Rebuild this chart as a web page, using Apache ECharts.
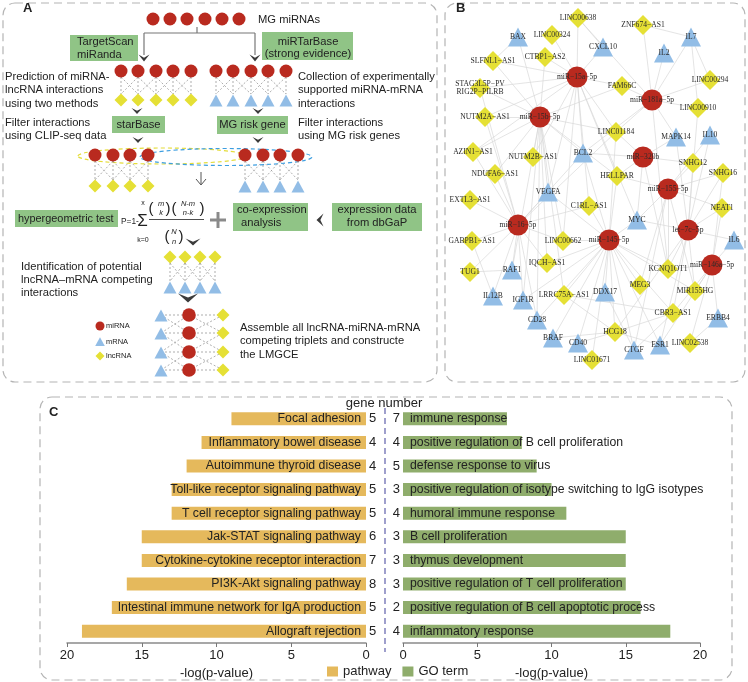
<!DOCTYPE html>
<html><head><meta charset="utf-8">
<script src="https://cdn.jsdelivr.net/npm/echarts@6/dist/echarts.min.js"></script>
<style>html,body{margin:0;padding:0;background:#fff}#c{width:748px;height:682px}</style>
</head><body><div id="c"></div>
<script>
// ---------- Panel C data ----------
const pathways = ['Focal adhesion','Inflammatory bowel disease','Autoimmune thyroid disease','Toll-like receptor signaling pathway','T cell receptor signaling pathway','Jak-STAT signaling pathway','Cytokine-cytokine receptor interaction','PI3K-Akt signaling pathway','Intestinal immune network for IgA production','Allograft rejection'];
const pathwayLogP = [9,11,12,13,13,15,15,16,17,19];
const pathwayGenes = [5,4,4,5,5,6,7,8,5,5];
const goTerms = ['immune response','positive regulation of B cell proliferation','defense response to virus','positive regulation of isotype switching to IgG isotypes','humoral immune response','B cell proliferation','thymus development','positive regulation of T cell proliferation','positive regulation of B cell apoptotic process','inflammatory response'];
const goLogP = [7,8,9,10,11,15,15,15,16,18];
const goGenes = [7,4,5,3,4,3,3,3,2,4];

// ---------- Panel B network data ----------
const miRNAs = ['miR-15a-5p','miR-181a-5p','miR-15b-5p','miR-320b','miR-155-5p','miR-16-5p','let-7c-5p','miR-145-5p','miR-146a-5p'];
const mRNAs = ['BAX','CXCL10','IL7','IL2','MAPK14','IL10','BCL2','VEGFA','MYC','IL6','RAF1','IL12B','IGF1R','DDX17','ERBB4','CD28','BRAF','CD40','CTGF','ESR1'];
const lncRNAs = ['LINC00638','ZNF674-AS1','LINC00324','SLFNL1-AS1','CTBP1-AS2','LINC00294','STAG3L5P-PVRIG2P-PILRB','FAM66C','LINC00910','NUTM2A-AS1','LINC01184','AZIN1-AS1','NUTM2B-AS1','SNHG12','SNHG16','NDUFA6-AS1','HELLPAR','EXTL3-AS1','C1RL-AS1','NEAT1','GABPB1-AS1','LINC00662','IQCH-AS1','TUG1','KCNQ1OT1','MIR155HG','LRRC75A-AS1','MEG3','CBR3-AS1','HCG18','LINC02538','LINC01671'];
const miRNATargets = {
 'miR-15a-5p':['LINC00638','LINC00324','CTBP1-AS2','CXCL10','FAM66C','BCL2','LINC01184','HELLPAR','NUTM2B-AS1','VEGFA','STAG3L5P-PVRIG2P-PILRB','NUTM2A-AS1','AZIN1-AS1','SLFNL1-AS1','LINC00662','MYC','C1RL-AS1'],
 'miR-15b-5p':['BAX','SLFNL1-AS1','STAG3L5P-PVRIG2P-PILRB','NUTM2A-AS1','AZIN1-AS1','NUTM2B-AS1','NDUFA6-AS1','BCL2','VEGFA','LINC01184','FAM66C','CTBP1-AS2','IQCH-AS1','LINC00662','IGF1R','RAF1','CD28','LRRC75A-AS1','HELLPAR'],
 'miR-181a-5p':['ZNF674-AS1','IL7','IL2','LINC00294','LINC00910','FAM66C','LINC00638','BCL2','MAPK14','LINC01184','KCNQ1OT1'],
 'miR-320b':['LINC01184','HELLPAR','MAPK14','SNHG12','BCL2','MYC','KCNQ1OT1'],
 'miR-155-5p':['HELLPAR','SNHG12','SNHG16','NEAT1','MYC','KCNQ1OT1','MIR155HG','IL10','MEG3','CTGF'],
 'let-7c-5p':['IL6','NEAT1','SNHG16','SNHG12','IL10','MYC','KCNQ1OT1','MIR155HG','HCG18','CBR3-AS1','ESR1','LINC00910','MAPK14'],
 'miR-16-5p':['EXTL3-AS1','GABPB1-AS1','TUG1','RAF1','IL12B','IGF1R','NDUFA6-AS1','AZIN1-AS1','VEGFA','BCL2','C1RL-AS1','LINC00662','NUTM2A-AS1','IQCH-AS1','STAG3L5P-PVRIG2P-PILRB','CD28','LINC01184'],
 'miR-145-5p':['C1RL-AS1','LINC00662','IQCH-AS1','LRRC75A-AS1','DDX17','MEG3','HCG18','CBR3-AS1','CD28','BRAF','CD40','CTGF','ESR1','LINC01671','KCNQ1OT1','MYC','HELLPAR','VEGFA','BCL2','IGF1R','LINC01184','MIR155HG'],
 'miR-146a-5p':['IL6','ERBB4','LINC02538','MIR155HG','NEAT1','CBR3-AS1','SNHG16','KCNQ1OT1','ESR1']
};
const extraPairs = [['ZNF674-AS1','IL7'],['IL7','LINC00294'],['IL7','LINC00910'],['LINC00638','CXCL10'],['TUG1','RAF1'],['GABPB1-AS1','IL12B'],['LRRC75A-AS1','CBR3-AS1'],['LRRC75A-AS1','HCG18'],['HCG18','CBR3-AS1'],['BRAF','HCG18'],['CD40','HCG18'],['CBR3-AS1','CTGF'],['LINC02538','ERBB4'],['HCG18','ESR1'],['DDX17','CTGF'],['SLFNL1-AS1','BAX']];
// node layout in panel-B plot units
const nodePos = {
 'miR-15a-5p':[577,77],'miR-181a-5p':[652,100],'miR-15b-5p':[540,117],'miR-320b':[643,157],'miR-155-5p':[668,189],'miR-16-5p':[518,225],'let-7c-5p':[688,230],'miR-145-5p':[609,240],'miR-146a-5p':[712,265],
 'BAX':[518,37],'CXCL10':[603,47],'IL7':[691,37],'IL2':[664,53],'MAPK14':[676,137],'IL10':[710,135],'BCL2':[583,153],'VEGFA':[548,192],'MYC':[637,220],'IL6':[734,240],'RAF1':[512,270],'IL12B':[493,296],'IGF1R':[523,300],'DDX17':[605,292],'ERBB4':[718,318],'CD28':[537,320],'BRAF':[553,338],'CD40':[578,343],'CTGF':[634,350],'ESR1':[660,345],
 'LINC00638':[578,18],'ZNF674-AS1':[643,25],'LINC00324':[552,35],'SLFNL1-AS1':[493,61],'CTBP1-AS2':[545,57],'LINC00294':[710,80],'STAG3L5P-PVRIG2P-PILRB':[480,88],'FAM66C':[622,86],'LINC00910':[698,108],'NUTM2A-AS1':[485,117],'LINC01184':[616,132],'AZIN1-AS1':[473,152],'NUTM2B-AS1':[533,157],'SNHG12':[693,163],'SNHG16':[723,173],'NDUFA6-AS1':[495,174],'HELLPAR':[617,176],'EXTL3-AS1':[470,200],'C1RL-AS1':[589,206],'NEAT1':[722,208],'GABPB1-AS1':[472,241],'LINC00662':[563,241],'IQCH-AS1':[547,263],'TUG1':[470,272],'KCNQ1OT1':[668,269],'MIR155HG':[695,291],'LRRC75A-AS1':[564,295],'MEG3':[640,285],'CBR3-AS1':[673,313],'HCG18':[615,332],'LINC02538':[690,343],'LINC01671':[592,360]
};

const RED='#b92a1f', BLUE='#92bde6', YEL='#e5e035', GREEN='#90c486';
const ORANGE='#e5b95c', OLIVE='#8fad6c';
const SANS='"Liberation Sans", Arial, sans-serif';
const SERIF='"Liberation Serif", "Times New Roman", serif';
const FA=11.2;

// ---------- Graphic (panel A schematic, frames) ----------
const G = [];
function frame(x,y,w,h){G.push({type:'rect',z:1,shape:{x:x,y:y,width:w,height:h,r:12},style:{fill:'none',stroke:'#b4b4b4',lineWidth:1.2,lineDash:[8,5]}});}
function circ(x,y,r,fill){G.push({type:'circle',z:20,shape:{cx:x,cy:y,r:r},style:{fill:fill}});}
function dia(x,y,s,fill){G.push({type:'polygon',z:20,shape:{points:[[x,y-s],[x+s,y],[x,y+s],[x-s,y]]},style:{fill:fill}});}
function tri(x,y,s,fill){G.push({type:'polygon',z:20,shape:{points:[[x,y-s],[x+s,y+s*0.85],[x-s,y+s*0.85]]},style:{fill:fill}});}
function ln(x1,y1,x2,y2,stroke,w,dash){G.push({type:'line',z:15,shape:{x1:x1,y1:y1,x2:x2,y2:y2},style:{stroke:stroke,lineWidth:w,lineDash:dash||null}});}
function txt(x,y,t,size,o){o=o||{};G.push({type:'text',z:30,x:x,y:y,style:{text:t,fill:o.fill||'#222',font:(o.weight||'normal')+' '+(o.style||'normal')+' '+size+'px '+(o.family||SANS),align:o.align||'left',verticalAlign:o.va||'middle',lineHeight:o.lh||size+1}});}
function box(x,y,w,h){G.push({type:'rect',z:12,shape:{x:x,y:y,width:w,height:h},style:{fill:GREEN}});}
function chev(x,y,w,h){G.push({type:'polygon',z:20,shape:{points:[[x-w/2,y-h/2],[x,y-h/2+h*0.45],[x+w/2,y-h/2],[x,y+h/2]]},style:{fill:'#3b3b3b'}});}
function chevL(x,y,w,h){G.push({type:'polygon',z:20,shape:{points:[[x+w/2,y-h/2],[x+w/2-w*0.45,y],[x+w/2,y+h/2],[x-w/2,y]]},style:{fill:'#3b3b3b'}});}
const DGR='#9a9a9a';
function mesh(xs,y1,y2,o1,o2){for(let i=0;i<xs.length;i++){ln(xs[i],y1+o1,xs[i],y2-o2,DGR,0.8,[2,2]);if(i<xs.length-1){ln(xs[i],y1+o1,xs[i+1],y2-o2,DGR,0.8,[2,2]);ln(xs[i+1],y1+o1,xs[i],y2-o2,DGR,0.8,[2,2]);}}}

frame(3,3,434,379); frame(445,3,300,379); frame(40,397,692,283);
txt(23,8,'A',13,{weight:'bold'}); txt(456,8,'B',13,{weight:'bold'}); txt(49,412,'C',13,{weight:'bold'});

// top row
[153,170,187,205,222,239].forEach(x=>circ(x,19,6.5,RED));
txt(258,20,'MG miRNAs',FA);
ln(197,27,197,33,'#777',1.2); ln(144,33,255,33,'#777',1.2); ln(144,33,144,55,'#777',1.2); ln(255,33,255,55,'#777',1.2);
chev(144,58,11,7); chev(255,58,11,7);
box(70,35,68,26); txt(77,42,'TargetScan',FA); txt(77,55,'miRanda',FA);
box(262,32,91,28); txt(308,42,'miRTarBase',FA,{align:'center'}); txt(308,54,'(strong evidence)',FA,{align:'center'});
// row 2
const r2L=[121,138,156,173,191], r2R=[216,233,251,268,286];
mesh(r2L,71,100,6,6); mesh(r2R,71,100,6,6);
r2L.forEach(x=>{circ(x,71,6.5,RED);dia(x,100,6.5,YEL);});
r2R.forEach(x=>{circ(x,71,6.5,RED);tri(x,101,6.5,BLUE);});
txt(5,70,'Prediction of miRNA-\nlncRNA interactions\nusing two methods',FA,{va:'top',lh:13.6});
txt(298,70,'Collection of experimentally\nsupported miRNA-mRNA\ninteractions',FA,{va:'top',lh:13.6});
chev(137,111,11,6); chev(258,111,11,6);
box(112,116,53,17); txt(138.5,124.5,'starBase',FA,{align:'center'});
box(217,116,71,18); txt(252.5,125,'MG risk gene',FA,{align:'center'});
txt(5,116,'Filter interactions\nusing CLIP-seq data',FA,{va:'top',lh:13.6});
txt(298,116,'Filter interactions\nusing MG risk genes',FA,{va:'top',lh:13.6});
chev(138,140,11,6); chev(258,140,11,6);
// row 3
G.push({type:'ellipse',z:14,shape:{cx:162,cy:156,rx:84,ry:8},style:{fill:'none',stroke:'#e4dc3a',lineWidth:1.2,lineDash:[4,3]}});
G.push({type:'ellipse',z:14,shape:{cx:226,cy:157,rx:86,ry:8.5},style:{fill:'none',stroke:'#3d9ee0',lineWidth:1.2,lineDash:[4,3]}});
const r3L=[95,113,130,148], r3R=[245,263,280,298];
mesh(r3L,155,186,6,6); mesh(r3R,155,186,6,6);
r3L.forEach(x=>{circ(x,155,6.5,RED);dia(x,186,6.5,YEL);});
r3R.forEach(x=>{circ(x,155,6.5,RED);tri(x,187,6.5,BLUE);});
ln(201,172,201,184,'#555',1); G.push({type:'polyline',z:15,shape:{points:[[196,179],[201,185],[206,179]]},style:{stroke:'#555',lineWidth:1,fill:'none'}});
// formula row
box(15,210,103,17); txt(18,218.5,'hypergeometric test',10.9);
txt(121,222,'P=1-',8.3);
txt(142.5,221,'\u03a3',17,{align:'center'});
txt(143,203,'x',7,{align:'center'}); txt(143,240,'k=0',7,{align:'center'});
txt(151,209,'(',15,{align:'center'}); txt(161,204,'m',7.5,{align:'center',style:'italic'}); txt(161,213,'k',7.5,{align:'center',style:'italic'}); txt(168,209,')',15,{align:'center'});
txt(174,209,'(',15,{align:'center'}); txt(188,204,'N-m',7.5,{align:'center',style:'italic'}); txt(188,213,'n-k',7.5,{align:'center',style:'italic'}); txt(202,209,')',15,{align:'center'});
ln(149,219.5,204,219.5,'#222',0.8);
txt(167,237,'(',15,{align:'center'}); txt(174,232,'N',7.5,{align:'center',style:'italic'}); txt(174,242,'n',7.5,{align:'center',style:'italic'}); txt(181,237,')',15,{align:'center'});
ln(210,220,226,220,'#8a8a8a',3); ln(218,212,218,228,'#8a8a8a',3);
box(233,203,75,28); txt(237,210,'co-expression',FA); txt(241,223,'analysis',FA);
chevL(320,220,7,13);
box(332,203,90,28); txt(377,210,'expression data',FA,{align:'center'}); txt(377,223,'from dbGaP',FA,{align:'center'});
chev(193,242,15,7);
// identification
const r4=[170,185,200,215];
mesh(r4,257,287,6,6);
r4.forEach(x=>{dia(x,257,6.5,YEL);tri(x,288,6.5,BLUE);});
txt(21,260,'Identification of potential\nlncRNA\u2013mRNA competing\ninteractions',FA,{va:'top',lh:13});
chev(188,298,20,9);
// assemble
const rowsY=[315,333,352,370];
rowsY.forEach((y,i)=>{
  ln(161,y,223,y,DGR,0.8,[2,2]);
  if(i<rowsY.length-1){const y2=rowsY[i+1];
    ln(161,y,189,y2,DGR,0.8,[2,2]);ln(161,y2,189,y,DGR,0.8,[2,2]);
    ln(189,y,223,y2,DGR,0.8,[2,2]);ln(189,y2,223,y,DGR,0.8,[2,2]);}
});
rowsY.forEach(y=>{tri(161,y+1,6.5,BLUE);circ(189,y,6.8,RED);dia(223,y,6.5,YEL);});
circ(100,326,4.5,RED); txt(106,326,'miRNA',7.5);
tri(100,342,4.8,BLUE); txt(106,342,'mRNA',7.5);
dia(100,356,4.5,YEL); txt(106,356,'lncRNA',7.5);
txt(240,321,'Assemble all lncRNA-miRNA-mRNA\ncompeting triplets and constructe\nthe LMGCE',FA,{va:'top',lh:13.6});

// panel C extras
txt(384,403,'gene number',13,{align:'center'});
ln(385,408,385,652,'#5f5fab',1.2,[6,4]);

// ---------- Network nodes / links ----------
function nodeOf(name,kind){
  const v=nodePos[name];
  const base={name:name,value:v};
  if(kind==='mi'){base.symbol='circle';base.symbolSize=21;base.itemStyle={color:RED};}
  else if(kind==='m'){base.symbol='triangle';base.symbolSize=[20,19];base.itemStyle={color:BLUE};}
  else {base.symbol='diamond';base.symbolSize=[20,20];base.itemStyle={color:YEL};}
  return base;
}
const nodes=[].concat(miRNAs.map(n=>nodeOf(n,'mi')),mRNAs.map(n=>nodeOf(n,'m')),lncRNAs.map(n=>nodeOf(n,'l')));
const links=[];
Object.keys(miRNATargets).forEach(m=>miRNATargets[m].forEach(t=>links.push({source:m,target:t})));
extraPairs.forEach(p=>links.push({source:p[0],target:p[1]}));

const axisCommon={type:'value',min:0,max:20,interval:5,
  axisLine:{show:true,lineStyle:{color:'#8a8a8a',width:1.5}},
  axisTick:{show:true,length:4,lineStyle:{color:'#777'}},
  axisLabel:{fontSize:13,color:'#222',fontFamily:SANS,margin:6},
  splitLine:{show:false},
  name:'-log(p-value)',nameLocation:'middle',nameGap:24,
  nameTextStyle:{fontSize:13,color:'#222',fontFamily:SANS}};
const yCommon={type:'category',inverse:true,axisLine:{show:false},axisTick:{show:false}};

const chart=echarts.init(document.getElementById('c'),null,{renderer:'canvas'});
chart.setOption({
  animation:false,
  backgroundColor:'#fff',
  textStyle:{fontFamily:SANS},
  grid:[
    {left:67,top:407,width:299,height:236,outerBoundsMode:'none',containLabel:false},
    {left:403,top:407,width:297,height:236,outerBoundsMode:'none',containLabel:false},
    {left:445,top:3,width:300,height:379,outerBoundsMode:'none',containLabel:false}
  ],
  xAxis:[
    Object.assign({},axisCommon,{gridIndex:0,inverse:true}),
    Object.assign({},axisCommon,{gridIndex:1}),
    {gridIndex:2,type:'value',min:445,max:745,show:false}
  ],
  yAxis:[
    Object.assign({},yCommon,{gridIndex:0,data:pathways,position:'right',axisLabel:{formatter:(v,i)=>String(pathwayGenes[i]),fontSize:13,color:'#222',margin:3}}),
    Object.assign({},yCommon,{gridIndex:1,data:goTerms,position:'left',axisLabel:{formatter:(v,i)=>String(goGenes[i]),fontSize:13,color:'#222',margin:3}}),
    {gridIndex:2,type:'value',min:3,max:382,inverse:true,show:false}
  ],
  legend:{data:['pathway','GO term'],left:327,top:665,padding:0,icon:'rect',itemWidth:11,itemHeight:10,itemGap:11,
    textStyle:{fontSize:13,color:'#222',fontFamily:SANS}},
  series:[
    {type:'bar',name:'pathway',xAxisIndex:0,yAxisIndex:0,data:pathwayLogP,barWidth:13,itemStyle:{color:ORANGE},
      label:{show:true,position:'insideRight',distance:5,formatter:p=>pathways[p.dataIndex],fontSize:12.3,color:'#222',fontFamily:SANS}},
    {type:'bar',name:'GO term',xAxisIndex:1,yAxisIndex:1,data:goLogP,barWidth:13,itemStyle:{color:OLIVE},
      label:{show:true,position:'insideLeft',distance:7,formatter:p=>goTerms[p.dataIndex],fontSize:12.25,color:'#222',fontFamily:SANS}},
    {type:'graph',coordinateSystem:'cartesian2d',xAxisIndex:2,yAxisIndex:2,data:nodes,links:links,
      lineStyle:{color:'#d8d8d8',width:0.7,opacity:1},
      label:{show:true,position:'inside',fontFamily:SERIF,fontSize:7.6,color:'#2a2a2a',
        formatter:p=>p.name==='STAG3L5P-PVRIG2P-PILRB'?'STAG3L5P\u2212PV\nRIG2P\u2212PILRB':p.name.replace(/-/g,'\u2212')},
      emphasis:{disabled:true},silent:true}
  ],
  graphic:{elements:G}
});
</script></body></html>
